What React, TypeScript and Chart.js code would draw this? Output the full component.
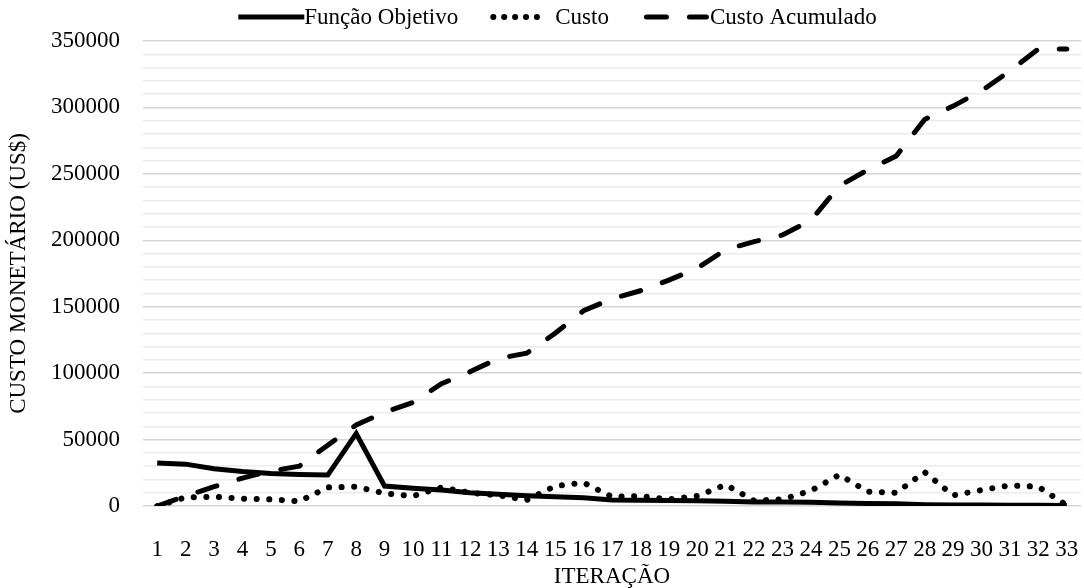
import React, { useEffect, useRef } from "react";
import { Chart, registerables } from "chart.js";

Chart.register(...registerables);

const categories = Array.from({ length: 33 }, (_, i) => String(i + 1));

const funcaoObjetivo = [
  32300, 31500, 28000, 26000, 24500, 23800, 23300, 54600, 15000, 13300, 12000,
  10000, 8800, 7700, 7000, 6200, 4600, 4300, 4200, 4000, 3500, 3100, 3000,
  2800, 2300, 1900, 1600, 1000, 800, 700, 600, 500, 300,
];

const custo = [
  0, 6500, 7000, 5500, 5000, 3500, 14000, 14500, 9500, 7500, 14000, 10000,
  8000, 4500, 15000, 17500, 7000, 7500, 5000, 7500, 16000, 4000, 5000, 11500,
  23500, 10800, 10000, 25500, 8000, 12000, 15500, 14500, 500,
];

const custoAcumulado = [
  0, 7500, 14500, 21000, 26300, 30000, 45800, 61000, 70600, 78000, 92000,
  101000, 111000, 115000, 130000, 147000, 156000, 162000, 170000, 179000,
  193000, 199000, 204000, 215000, 241000, 253000, 263500, 291000, 301000,
  312500, 327500, 344000, 344000,
];

const seriesNames = ["Função Objetivo", "Custo", "Custo Acumulado"];
const legendSampleWidths = [66, 60, 65];
const legendTextGaps = [0, 5, 1];
const legendItemGaps = [32, 35];

const FONT = "'Liberation Serif', 'Times New Roman', serif";
const FS = 23;

const legendDashes: number[][] = [[], [0.1, 10.8], [20, 23]];
const legendCaps: CanvasLineCap[] = ["butt", "round", "round"];
const legendInsets = [0, 3, 2.5];

const customLegend = {
  id: "customLegend",
  afterDraw(chart: any) {
    const ctx = chart.ctx as CanvasRenderingContext2D;
    ctx.save();
    ctx.font = `${FS}px ${FONT}`;
    const widths = seriesNames.map(
      (n, i) =>
        legendSampleWidths[i] + legendTextGaps[i] + ctx.measureText(n).width
    );
    const total =
      widths.reduce((a, b) => a + b, 0) +
      legendItemGaps.reduce((a, b) => a + b, 0);
    const centerX = 557.5;
    const cy = 17;
    let x = centerX - total / 2;
    seriesNames.forEach((n, i) => {
      const w = legendSampleWidths[i];
      const ins = legendInsets[i];
      ctx.beginPath();
      ctx.setLineDash(legendDashes[i]);
      ctx.lineCap = legendCaps[i];
      ctx.lineWidth = i === 1 ? 6 : 5;
      ctx.strokeStyle = "#000";
      ctx.moveTo(x + ins, cy);
      ctx.lineTo(x + w - ins, cy);
      ctx.stroke();
      ctx.setLineDash([]);
      ctx.fillStyle = "#000";
      ctx.textBaseline = "middle";
      ctx.textAlign = "left";
      ctx.fillText(n, x + w + legendTextGaps[i], cy + 1);
      x += widths[i] + (legendItemGaps[i] || 0);
    });
    ctx.restore();
  },
};

export default function App() {
  const ref = useRef<HTMLCanvasElement | null>(null);

  useEffect(() => {
    if (!ref.current) return;
    const chart = new Chart(ref.current, {
      type: "line",
      data: {
        labels: categories,
        datasets: [
          {
            label: seriesNames[0],
            data: funcaoObjetivo,
            borderColor: "#000",
            backgroundColor: "#000",
            borderWidth: 5,
            pointRadius: 0,
            tension: 0,
            borderCapStyle: "butt",
            borderJoinStyle: "miter",
          },
          {
            label: seriesNames[1],
            data: custo,
            borderColor: "#000",
            backgroundColor: "#000",
            borderWidth: 6,
            borderDash: [0.1, 12.5],
            borderCapStyle: "round",
            pointRadius: 0,
            tension: 0,
          },
          {
            label: seriesNames[2],
            data: custoAcumulado,
            borderColor: "#000",
            backgroundColor: "#000",
            borderWidth: 5,
            borderDash: [20, 23],
            borderCapStyle: "round",
            pointRadius: 0,
            tension: 0,
          },
        ],
      },
      plugins: [customLegend],
      options: {
        responsive: false,
        animation: false,
        layout: { padding: { top: 41, right: 3, bottom: 0, left: 0 } },
        plugins: {
          tooltip: { enabled: false },
          legend: { display: false },
        },
        scales: {
          x: {
            offset: true,
            grid: { display: false, drawTicks: false },
            border: { display: false },
            ticks: {
              color: "#000",
              font: { family: FONT, size: FS },
              padding: 30,
              autoSkip: false,
              maxRotation: 0,
            },
            title: {
              display: true,
              text: "ITERAÇÃO",
              color: "#000",
              font: { family: FONT, size: FS, lineHeight: 1 },
              padding: { top: 0, bottom: 0 },
            },
            afterFit: (s: any) => {
              s.height = 82;
              s.paddingLeft = 0;
              s.paddingRight = 0;
            },
          },
          y: {
            min: 0,
            max: 350000,
            grid: {
              drawTicks: false,
              color: (c: any) =>
                c.tick && c.tick.value % 50000 === 0 ? "#d4d4d4" : "#ececec",
              lineWidth: 1.5,
            },
            border: { display: false },
            ticks: {
              stepSize: 10000,
              autoSkip: false,
              color: "#000",
              font: { family: FONT, size: FS },
              padding: 23,
              callback: (v: any) => (Number(v) % 50000 === 0 ? String(v) : ""),
            },
            title: {
              display: true,
              text: "CUSTO MONETÁRIO (US$)",
              color: "#000",
              font: { family: FONT, size: FS },
              padding: { top: 5, bottom: 0 },
            },
            afterFit: (s: any) => {
              s.width = 143;
              s.paddingTop = 0;
              s.paddingBottom = 0;
            },
          },
        },
      },
    });
    return () => chart.destroy();
  }, []);

  return (
    <div
      style={{
        position: "fixed",
        left: 0,
        top: 0,
        width: 1084,
        height: 588,
        background: "#fff",
      }}
    >
      <canvas ref={ref} width={1084} height={588} style={{ display: "block" }} />
    </div>
  );
}
